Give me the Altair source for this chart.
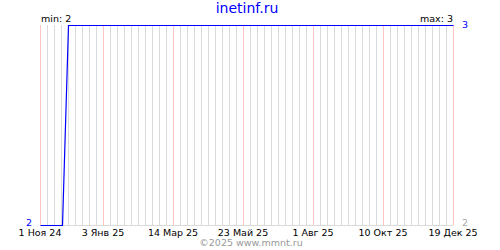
import altair as alt
import pandas as pd

# data
line_dates = ["2024-11-01", "2024-11-23", "2024-11-29", "2025-12-19"]
line_vals = [2, 2, 3, 3]
tick_dates = ["2024-11-01", "2025-01-03", "2025-03-14", "2025-05-23",
              "2025-08-01", "2025-10-10", "2025-12-19"]
tick_labels = ["1 Ноя 24", "3 Янв 25", "14 Мар 25", "23 Май 25",
               "1 Авг 25", "10 Окт 25", "19 Дек 25"]
grid_dates = [d.strftime("%Y-%m-%d") for d in pd.date_range("2024-11-01", "2025-12-19", freq="7D")]
title_text = "inetinf.ru"
footer_text = "©2025 www.mmnt.ru"
y_min, y_max = 2, 3

FONT = "DejaVu Sans"
W, H = 413, 200

xscale = alt.Scale(type="utc", domain=[pd.Timestamp("2024-11-01").value // 10**6,
                                       pd.Timestamp("2025-12-19").value // 10**6], nice=False)
yscale = alt.Scale(domain=[y_min, y_max], nice=False, zero=False)

line_df = pd.DataFrame({"date": line_dates, "value": line_vals})
tick_df = pd.DataFrame({"tdate": tick_dates, "label": tick_labels})
grid_df = pd.DataFrame({"gdate": grid_dates})

grid = alt.Chart(grid_df).mark_rule(color="#dadada", strokeWidth=1, xOffset=0.5).encode(
    x=alt.X("gdate:T", scale=xscale, axis=None), y=alt.value(0), y2=alt.value(H))
red = alt.Chart(tick_df).mark_rule(color="#ffc4c4", strokeWidth=1, xOffset=0.5).encode(
    x=alt.X("tdate:T", scale=xscale, axis=None), y=alt.value(0), y2=alt.value(H))
base = alt.Chart(line_df).mark_rule(color="#dadada", strokeWidth=1, yOffset=0.5).encode(
    x=alt.value(0), x2=alt.value(W), y=alt.value(H))
line = alt.Chart(line_df).mark_line(color="#0000ff", strokeWidth=1.2, interpolate="linear",
                                    yOffset=0.5, xOffset=0.5).encode(
    x=alt.X("date:T", scale=xscale, axis=None),
    y=alt.Y("value:Q", scale=yscale, axis=None))
xlab = alt.Chart(tick_df).mark_text(font=FONT, fontSize=9.5, color="black", align="center",
                                    baseline="alphabetic").encode(
    x=alt.X("tdate:T", scale=xscale, axis=None), y=alt.value(H + 11), text="label:N")

left_lab = alt.Chart(pd.DataFrame({"v": [y_min]})).mark_text(
    font=FONT, fontSize=9.5, color="#0000ff", align="right", baseline="middle", dy=-2).encode(
    x=alt.value(-8), y=alt.Y("v:Q", scale=yscale), text="v:N")
right_hi = alt.Chart(pd.DataFrame({"v": [y_max]})).mark_text(
    font=FONT, fontSize=9.5, color="#0000ff", align="left", baseline="middle").encode(
    x=alt.value(W + 9), y=alt.Y("v:Q", scale=yscale), text="v:N")
right_lo = alt.Chart(pd.DataFrame({"v": [y_min]})).mark_text(
    font=FONT, fontSize=9.5, color="#aaaaaa", align="left", baseline="middle", dy=-2).encode(
    x=alt.value(W + 9), y=alt.Y("v:Q", scale=yscale), text="v:N")

min_t = alt.Chart(pd.DataFrame({"t": [f"min: {y_min}"]})).mark_text(
    font=FONT, fontSize=9.5, color="black", align="left", baseline="alphabetic").encode(
    x=alt.value(1), y=alt.value(-3), text="t:N")
max_t = alt.Chart(pd.DataFrame({"t": [f"max: {y_max}"]})).mark_text(
    font=FONT, fontSize=9.5, color="black", align="right", baseline="alphabetic").encode(
    x=alt.value(W), y=alt.value(-3), text="t:N")
title = alt.Chart(pd.DataFrame({"t": [title_text]})).mark_text(
    font=FONT, fontSize=14, color="#0000ff", align="center", baseline="alphabetic").encode(
    x=alt.value(207), y=alt.value(-12), text="t:N")
footer = alt.Chart(pd.DataFrame({"t": [footer_text]})).mark_text(
    font=FONT, fontSize=9.5, color="#999999", align="center", baseline="alphabetic").encode(
    x=alt.value(211), y=alt.value(H + 21), text="t:N")

chart = alt.layer(grid, base, red, line, xlab, left_lab, right_hi, right_lo,
                  min_t, max_t, title, footer).properties(
    width=W, height=H,
    padding={"left": 40, "top": 25, "right": 47, "bottom": 25},
    autosize=alt.AutoSizeParams(type="none"),
    background="white",
).configure_view(stroke=None)

chart.save("out.html", embed_options={"renderer": "svg", "actions": False})
